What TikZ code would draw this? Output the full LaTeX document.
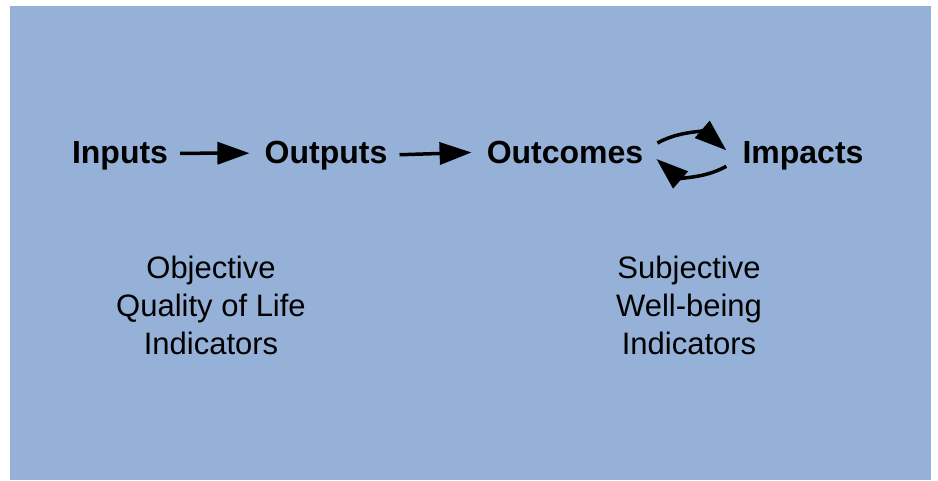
\documentclass[tikz,border=0pt]{standalone}
\usepackage{fontspec}
\setmainfont{Liberation Sans}
\usepackage{tikz}
\usetikzlibrary{positioning, arrows.meta, calc}
\definecolor{panelblue}{RGB}{149,177,215}

\tikzset{
    stage/.style={font=\fontsize{32}{38}\selectfont\bfseries, inner sep=0pt, anchor=base},
    indic/.style={font=\fontsize{31}{38}\selectfont, align=center, inner sep=0pt},
    flow/.style={-{Triangle[length=32pt, width=22pt]}, line width=3.5pt, shorten <=12pt, shorten >=15pt},
    loop/.style={-{Triangle[length=32pt, width=22pt]}, line width=3.5pt},
}

\begin{document}
\begin{tikzpicture}[x=1pt, y=1pt]
    \useasboundingbox (0,0) rectangle (938,481);
    \fill [panelblue] (10,1) rectangle (931,475);
    % stages
    \node (Inputs) [stage] at (120,317) {Inputs};
    \node (Outputs) [stage] at (326,317) {Outputs};
    \node (Outcomes) [stage] at (565,317) {Outcomes};
    \node (Impacts) [stage] at (803,317) {Impacts};
    \draw[flow] ([yshift=3pt]Inputs.east) -- ([yshift=3pt]Outputs.west);
    \draw[flow] ([yshift=1pt]Outputs.east) -- ([yshift=1pt]Outcomes.west);
    \draw[loop] ($(Outcomes.east)+(14,10)$) to[bend left=35] ($(Impacts.west)+(-16,6)$);
    \draw[loop] ($(Impacts.west)+(-16,-10)$) to[bend left=35] ($(Outcomes.east)+(13,-6)$);
    % indicator groups
    \node (Objective) [indic] at (211,176) {Objective\\Quality of Life\\Indicators};
    \node (Subjective) [indic] at (689,176) {Subjective\\Well-being\\Indicators};
\end{tikzpicture}
\end{document}
